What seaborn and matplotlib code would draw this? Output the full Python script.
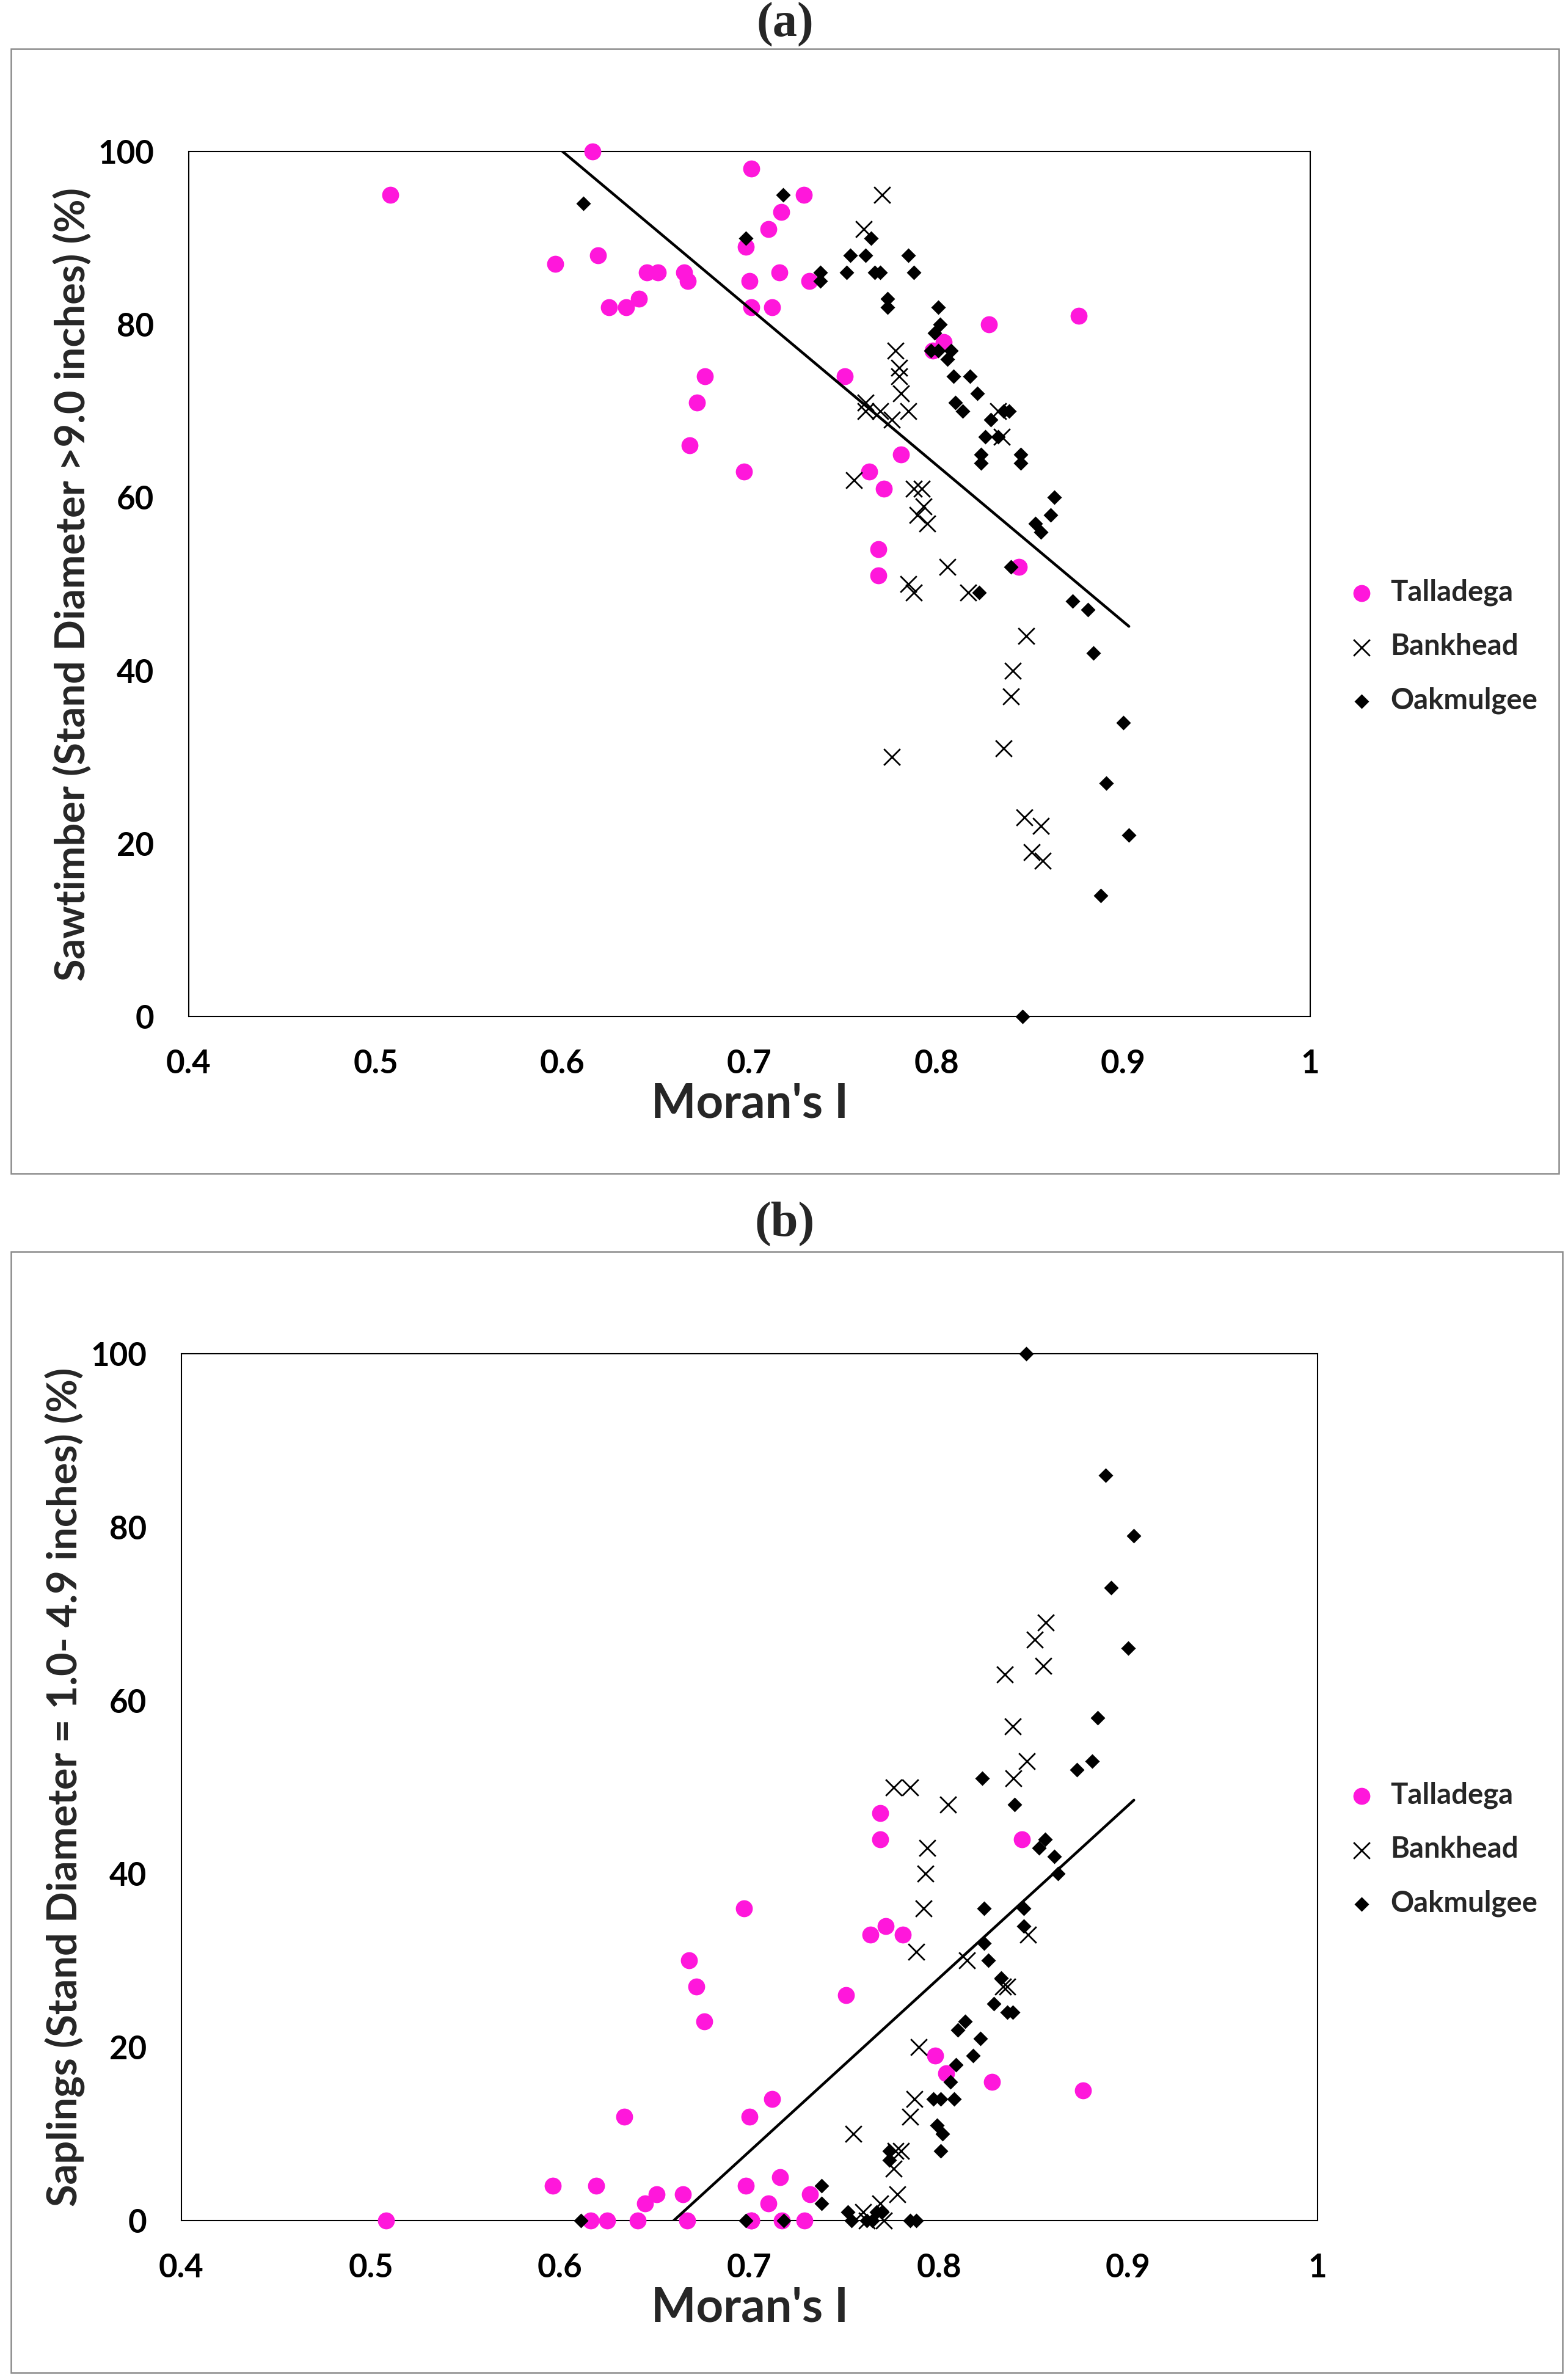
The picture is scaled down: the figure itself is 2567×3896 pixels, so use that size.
import numpy as np
import pandas as pd
import matplotlib
matplotlib.use("Agg")
import matplotlib.pyplot as plt
from matplotlib.patches import Rectangle
import seaborn as sns

sns.set_style("white")
plt.rcParams['font.family'] = ['Lato', 'DejaVu Sans']
plt.rcParams['font.weight'] = 'bold'

# ---------------- data ----------------
sites = ["Talladega", "Bankhead", "Oakmulgee"]

tall_moran = [0.508, 0.596, 0.616, 0.619, 0.625, 0.634, 0.641, 0.645, 0.651, 0.665,
              0.667, 0.668, 0.672, 0.676, 0.697, 0.698, 0.700, 0.701, 0.701, 0.710,
              0.712, 0.716, 0.717, 0.729, 0.732, 0.751, 0.764, 0.769, 0.769, 0.772,
              0.781, 0.798, 0.804, 0.828, 0.844, 0.876]
tall_saw = [95, 87, 100, 88, 82, 82, 83, 86, 86, 86,
            85, 66, 71, 74, 63, 89, 85, 98, 82, 91,
            82, 86, 93, 95, 85, 74, 63, 54, 51, 61,
            65, 77, 78, 80, 52, 81]
tall_sap = [0, 4, 0, 4, 0, 12, 0, 2, 3, 3,
            0, 30, 27, 23, 36, 4, 12, 0, 0, 2,
            14, 5, 0, 0, 3, 26, 33, 47, 44, 34,
            33, 19, 17, 16, 44, 15]

oak_moran = [0.611, 0.698, 0.718, 0.738, 0.738, 0.752, 0.754, 0.762, 0.765, 0.767,
             0.770, 0.774, 0.774, 0.785, 0.788, 0.797, 0.799, 0.801, 0.801, 0.802,
             0.806, 0.808, 0.809, 0.810, 0.814, 0.818, 0.822, 0.823, 0.824, 0.824,
             0.826, 0.829, 0.833, 0.836, 0.839, 0.840, 0.845, 0.845, 0.846, 0.853,
             0.856, 0.861, 0.863, 0.873, 0.881, 0.884, 0.888, 0.891, 0.900, 0.903]
oak_saw = [94, 90, 95, 86, 85, 86, 88, 88, 90, 86,
           86, 83, 82, 88, 86, 77, 79, 77, 82, 80,
           76, 77, 74, 71, 70, 74, 72, 49, 65, 64,
           67, 69, 67, 70, 70, 52, 64, 65, 0, 57,
           56, 58, 60, 48, 47, 42, 14, 27, 34, 21]
oak_sap = [0, 0, 0, 4, 2, 1, 0, 0, 0, 1,
           1, 8, 7, 0, 0, 14, 11, 14, 8, 10,
           16, 14, 18, 22, 23, 19, 21, 51, 36, 32,
           30, 25, 28, 24, 24, 48, 34, 36, 100, 43,
           44, 42, 40, 52, 53, 58, 86, 73, 66, 79]

bank_moran_saw = [0.756, 0.761, 0.762, 0.762, 0.770, 0.771, 0.776, 0.776, 0.778, 0.780,
                  0.780, 0.781, 0.785, 0.785, 0.788, 0.788, 0.790, 0.792, 0.793, 0.795,
                  0.806, 0.817, 0.833, 0.835, 0.836, 0.840, 0.841, 0.848, 0.847, 0.851,
                  0.856, 0.857]
bank_saw = [62, 91, 71, 70, 70, 95, 69, 30, 77, 75,
            74, 72, 50, 70, 61, 49, 58, 61, 59, 57,
            52, 49, 70, 67, 31, 37, 40, 44, 23, 19,
            22, 18]

bank_moran_sap = [0.755, 0.760, 0.762, 0.771, 0.769, 0.778, 0.776, 0.777, 0.780, 0.785,
                  0.787, 0.7895, 0.788, 0.792, 0.793, 0.794, 0.805, 0.776, 0.785, 0.815,
                  0.834, 0.836, 0.847, 0.835, 0.839, 0.8395, 0.8465, 0.8506, 0.8551, 0.8564]
bank_sap = [10, 1, 0, 0, 2, 3, 6, 8, 8, 12,
            14, 20, 31, 36, 40, 43, 48, 50, 50, 30,
            27, 27, 33, 63, 57, 51, 53, 67, 64, 69]

# linear trend lines (end points)
trend_saw_x = [0.600, 0.903]
trend_saw_y = [100.0, 45.1]
trend_sap_x = [0.660, 0.903]
trend_sap_y = [0.0, 48.5]

x_ticks = [0.4, 0.5, 0.6, 0.7, 0.8, 0.9, 1.0]
x_tick_labels = ["0.4", "0.5", "0.6", "0.7", "0.8", "0.9", "1"]
y_ticks = [0, 20, 40, 60, 80, 100]

PINK = "#FF17DB"

# ---------------- figure ----------------
W, H = 2567, 3896
fig = plt.figure(figsize=(W / 100, H / 100), dpi=100)


def fx(px):
    return px / W


def fy(py):
    return 1 - py / H


# panel frames (chart-area borders)
for (x0, y0, x1, y1) in [(18, 80, 2552, 1921), (18, 2049, 2558, 3884)]:
    fig.patches.append(Rectangle((fx(x0), fy(y1)), fx(x1) - fx(x0), fy(y0) - fy(y1),
                                 transform=fig.transFigure, fill=False,
                                 edgecolor="#8a8a8a", linewidth=1.8, zorder=0))

ax_a = fig.add_axes([fx(309), fy(1664), fx(2145) - fx(309), fy(248) - fy(1664)])
ax_b = fig.add_axes([fx(297), fy(3635), fx(2157) - fx(297), fy(2216) - fy(3635)])

fig.text(fx(1285), fy(40), "(a)", ha="center", va="center", fontsize=58,
         fontweight="bold", family="Liberation Serif")
fig.text(fx(1285), fy(2003), "(b)", ha="center", va="center", fontsize=58,
         fontweight="bold", family="Liberation Serif")


def draw(ax, tall_y, bank_x, bank_y, oak_y, tx, ty, ylabel, legend_y):
    df_t = pd.DataFrame({"moran": tall_moran, "pct": tall_y})
    df_b = pd.DataFrame({"moran": bank_x, "pct": bank_y})
    df_o = pd.DataFrame({"moran": oak_moran, "pct": oak_y})
    sns.scatterplot(data=df_t, x="moran", y="pct", ax=ax, marker="o", s=400,
                    color=PINK, linewidth=0, label=sites[0], clip_on=False, zorder=3)
    sns.scatterplot(data=df_b, x="moran", y="pct", ax=ax, marker="x", s=369,
                    color="black", linewidth=2.0, label=sites[1], clip_on=False, zorder=4)
    sns.scatterplot(data=df_o, x="moran", y="pct", ax=ax, marker="D", s=150,
                    color="black", linewidth=0, label=sites[2], clip_on=False, zorder=5)
    sns.lineplot(x=tx, y=ty, ax=ax, color="black", linewidth=3.2, zorder=6,
                 legend=False)

    ax.set_xlim(0.4, 1.0)
    ax.set_ylim(0, 100)
    ax.set_xticks(x_ticks)
    ax.set_xticklabels(x_tick_labels)
    ax.set_yticks(y_ticks)
    ax.tick_params(axis="both", direction="in", length=14, width=1.5,
                   labelsize=38, colors="black")
    ax.tick_params(axis="y", pad=41)
    ax.tick_params(axis="x", pad=38)
    for lab in ax.get_xticklabels() + ax.get_yticklabels():
        lab.set_fontweight("bold")
    for sp in ax.spines.values():
        sp.set_visible(True)
        sp.set_color("black")
        sp.set_linewidth(1.5)
    ax.set_xlabel("Moran's I", fontsize=56, fontweight="bold", labelpad=4)
    ax.set_ylabel(ylabel, fontsize=48, fontweight="bold", labelpad=6)

    handles, labels = ax.get_legend_handles_labels()
    ax.legend(handles, labels, loc="center left",
              bbox_to_anchor=(fx(2198), fy(legend_y)), bbox_transform=fig.transFigure,
              frameon=False, prop={"size": 34, "weight": "bold"},
              handletextpad=0.35, labelspacing=0.94, borderpad=0, borderaxespad=0,
              handlelength=1.3)


draw(ax_a, tall_saw, bank_moran_saw, bank_saw, oak_saw, trend_saw_x, trend_saw_y,
     "Sawtimber (Stand Diameter >9.0 inches) (%)", 1058)
draw(ax_b, tall_sap, bank_moran_sap, bank_sap, oak_sap, trend_sap_x, trend_sap_y,
     "Saplings (Stand Diameter = 1.0- 4.9 inches) (%)", 3027)

fig.savefig("out.png", dpi=100)
